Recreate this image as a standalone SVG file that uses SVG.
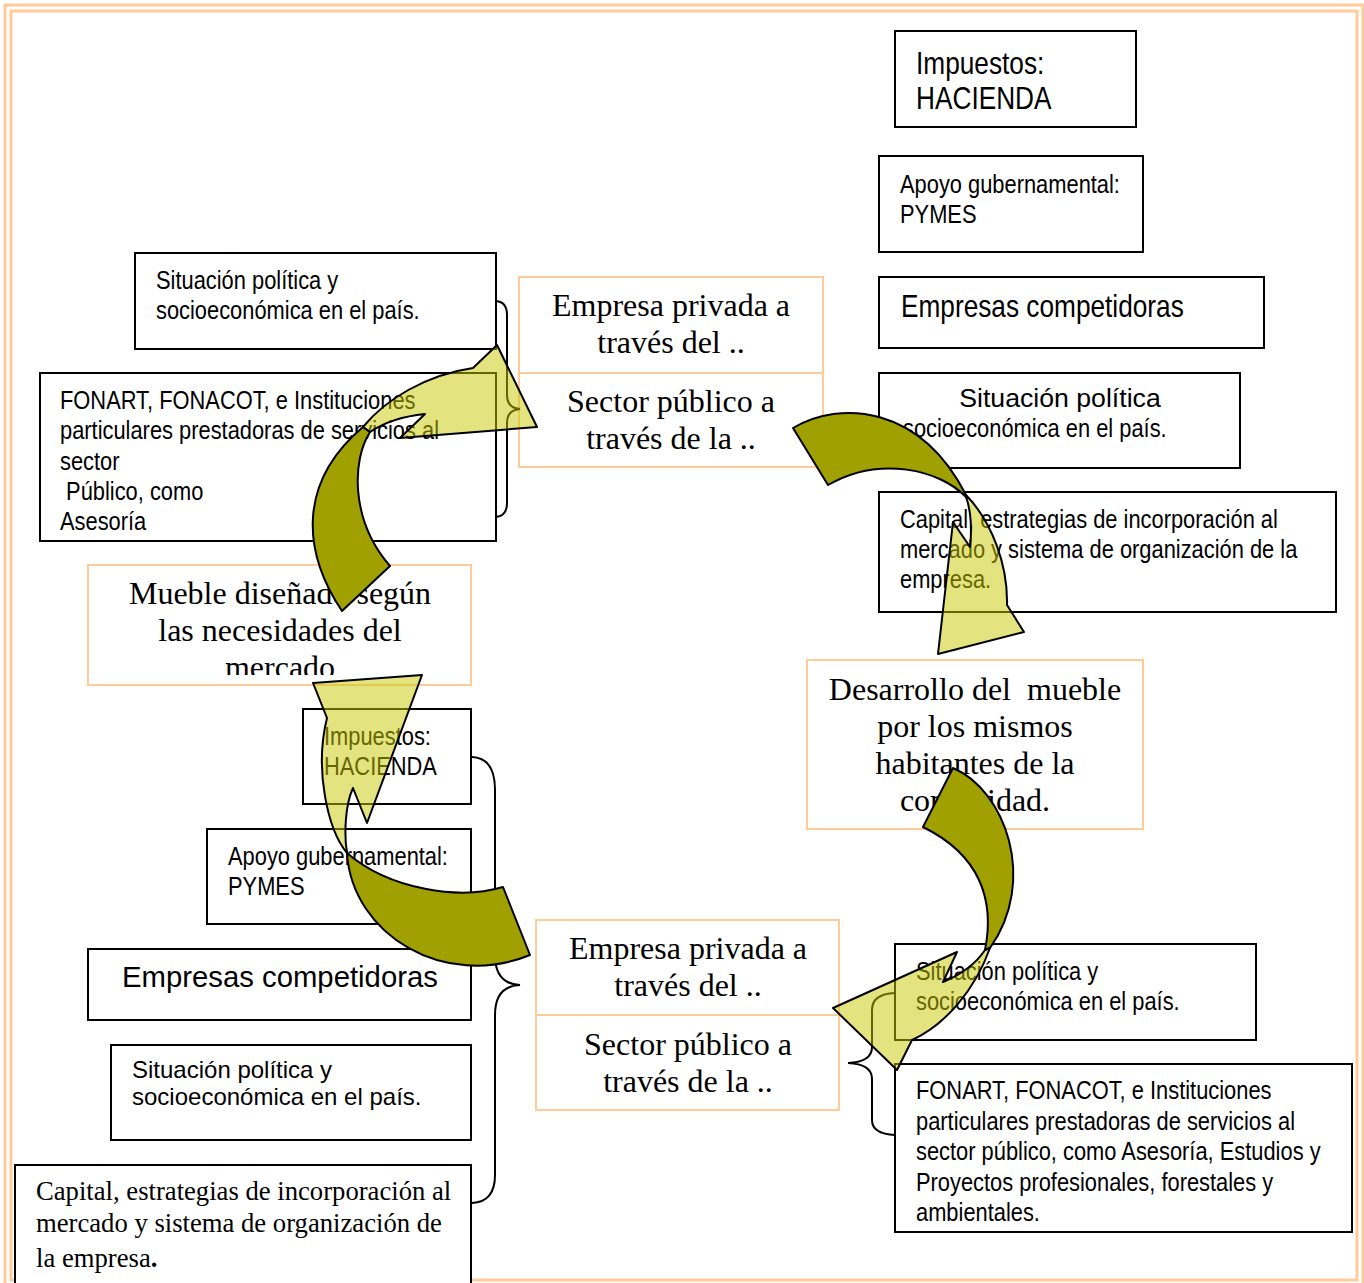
<svg xmlns="http://www.w3.org/2000/svg" width="1364" height="1283" viewBox="0 0 1364 1283">
<style>
.bx{fill:#fff;stroke:#000;stroke-width:2}
.ob{fill:#fff;stroke:#FFCC99;stroke-width:2}
.nw{font-family:"Liberation Sans",Arial,sans-serif;font-size:26.67px;fill:#000}
.nw32{font-family:"Liberation Sans",Arial,sans-serif;font-size:32px;fill:#000}
.ar{font-family:"Liberation Sans",Arial,sans-serif;fill:#000}
.sf{font-family:"Liberation Serif","Times New Roman",serif;font-size:32px;fill:#000;text-anchor:middle}
.sf2{font-family:"Liberation Serif","Times New Roman",serif;font-size:26.67px;fill:#000}
.brace{fill:none;stroke:#000;stroke-width:2}
.dk{fill:#A0A000;stroke:#000;stroke-width:2;stroke-linejoin:round}
.lt{fill:#C8C800;fill-opacity:0.5;stroke:#000;stroke-width:2;stroke-linejoin:round}
.frame{fill:none;stroke:#FFCC99;stroke-width:3}
</style>
<defs>
<clipPath id="clipMueble"><rect x="88" y="565" width="383" height="110"/></clipPath>
</defs>
<rect x="0" y="0" width="1364" height="1283" fill="#fff"/>
<rect class="frame" x="5" y="5" width="1358" height="1281"/>
<rect class="frame" x="11" y="11" width="1346" height="1269"/>

<g id="n-impuestos-tr"><rect class="bx" x="895" y="31" width="241" height="96"/>
<g transform="translate(916 0) scale(0.82 1)"><text class="nw32" x="0" y="74">Impuestos:</text><text class="nw32" x="0" y="109">HACIENDA</text></g></g>
<g id="n-apoyo-tr"><rect class="bx" x="879" y="156" width="264" height="96"/>
<g transform="translate(900 0) scale(0.82 1)"><text class="nw" x="0" y="193">Apoyo gubernamental:</text><text class="nw" x="0" y="223">PYMES</text></g></g>
<g id="n-competidoras-tr"><rect class="bx" x="879" y="277" width="385" height="71"/>
<g transform="translate(901 0) scale(0.82 1)"><text class="nw32" x="0" y="317">Empresas competidoras</text></g></g>
<g id="n-situacion-tr"><rect class="bx" x="879" y="373" width="361" height="95"/>
<text class="ar" font-size="26.67" x="1060" y="407" text-anchor="middle">Situación política</text>
<g transform="translate(903 0) scale(0.82 1)"><text class="nw" x="0" y="437">socioeconómica en el país.</text></g></g>
<g id="n-capital-tr"><rect class="bx" x="879" y="492" width="457" height="120"/>
<g transform="translate(900 0) scale(0.82 1)">
<text class="nw" x="0" y="528">Capital, estrategias de incorporación al</text>
<text class="nw" x="0" y="558">mercado y sistema de organización de la</text>
<text class="nw" x="0" y="588">empresa.</text></g></g>

<g id="n-privada-top"><rect class="ob" x="519" y="277" width="304" height="96"/>
<text class="sf" x="671" y="316">Empresa privada a</text><text class="sf" x="671" y="353">través del ..</text></g>
<g id="n-publico-top"><rect class="ob" x="519" y="373" width="304" height="94"/>
<text class="sf" x="671" y="412">Sector público a</text><text class="sf" x="671" y="449">través de la ..</text></g>

<g id="n-situacion-tl"><rect class="bx" x="135" y="253" width="361" height="96"/>
<g transform="translate(156 0) scale(0.82 1)"><text class="nw" x="0" y="289">Situación política y</text><text class="nw" x="0" y="319">socioeconómica en el país.</text></g></g>
<g id="n-fonart-l"><rect class="bx" x="40" y="373" width="456" height="168"/>
<g transform="translate(60 0) scale(0.82 1)">
<text class="nw" x="0" y="409">FONART, FONACOT, e Instituciones</text>
<text class="nw" x="0" y="439">particulares prestadoras de servicios al</text>
<text class="nw" x="0" y="470">sector</text>
<text class="nw" x="0" y="500" xml:space="preserve"> Público, como</text>
<text class="nw" x="0" y="530">Asesoría</text></g></g>

<g id="n-mueble"><rect class="ob" x="88" y="565" width="383" height="120"/>
<g clip-path="url(#clipMueble)">
<text class="sf" x="280" y="604">Mueble diseñado según</text>
<text class="sf" x="280" y="641">las necesidades del</text>
<text class="sf" x="280" y="678">mercado</text></g></g>

<g id="n-desarrollo"><rect class="ob" x="807" y="660" width="336" height="169"/>
<text class="sf" x="975" y="700" xml:space="preserve">Desarrollo del  mueble</text>
<text class="sf" x="975" y="737">por los mismos</text>
<text class="sf" x="975" y="774">habitantes de la</text>
<text class="sf" x="975" y="811">comunidad.</text></g>

<g id="n-impuestos-bl"><rect class="bx" x="303" y="709" width="168" height="95"/>
<g transform="translate(324 0) scale(0.82 1)"><text class="nw" x="0" y="745">Impuestos:</text><text class="nw" x="0" y="775">HACIENDA</text></g></g>
<g id="n-apoyo-bl"><rect class="bx" x="207" y="829" width="264" height="95"/>
<g transform="translate(228 0) scale(0.82 1)"><text class="nw" x="0" y="865">Apoyo gubernamental:</text><text class="nw" x="0" y="895">PYMES</text></g></g>
<g id="n-competidoras-bl"><rect class="bx" x="88" y="949" width="383" height="71"/>
<text class="ar" font-size="29.3" x="122" y="987">Empresas competidoras</text></g>
<g id="n-situacion-bl"><rect class="bx" x="111" y="1045" width="360" height="95"/>
<text class="ar" font-size="24" x="132" y="1078">Situación política y</text>
<text class="ar" font-size="24" x="132" y="1105">socioeconómica en el país.</text></g>
<g id="n-capital-bl"><rect class="bx" x="15" y="1165" width="456" height="135"/>
<text class="sf2" x="36" y="1200">Capital, estrategias de incorporación al</text>
<text class="sf2" x="36" y="1232">mercado y sistema de organización de</text>
<text class="sf2" x="36" y="1267">la empresa<tspan font-weight="bold">.</tspan></text></g>

<g id="n-privada-bot"><rect class="ob" x="536" y="920" width="303" height="95"/>
<text class="sf" x="688" y="959">Empresa privada a</text><text class="sf" x="688" y="996">través del ..</text></g>
<g id="n-publico-bot"><rect class="ob" x="536" y="1015" width="303" height="95"/>
<text class="sf" x="688" y="1055">Sector público a</text><text class="sf" x="688" y="1092">través de la ..</text></g>

<g id="n-situacion-br"><rect class="bx" x="895" y="944" width="361" height="96"/>
<g transform="translate(916 0) scale(0.82 1)"><text class="nw" x="0" y="980">Situación política y</text><text class="nw" x="0" y="1010">socioeconómica en el país.</text></g></g>
<g id="n-fonart-br"><rect class="bx" x="895" y="1064" width="457" height="168"/>
<g transform="translate(916 0) scale(0.82 1)">
<text class="nw" x="0" y="1099">FONART, FONACOT, e Instituciones</text>
<text class="nw" x="0" y="1130">particulares prestadoras de servicios al</text>
<text class="nw" x="0" y="1160">sector público, como Asesoría, Estudios y</text>
<text class="nw" x="0" y="1191">Proyectos profesionales, forestales y</text>
<text class="nw" x="0" y="1221">ambientales.</text></g></g>

<g id="connectors">
<path class="brace" d="M496,301 Q507,302 507,315 L507,395 Q507,408 520,409 Q507,410 507,423 L507,503 Q507,516 496,517"/>
<path class="brace" d="M472,757 Q495,758 495,790 L495,955 Q495,984 520,985 Q495,986 495,1015 L495,1175 Q495,1202 472,1203"/>
<path class="brace" d="M895,993 Q872,994 872,1010 L872,1047 Q872,1062 848,1063 Q872,1064 872,1079 L872,1120 Q872,1134 895,1135"/>

<path class="dk" d="M342,611 C300,548 300,480 363,427 L370,432 C352,460 350,520 390,566 Z"/>
<path class="lt" d="M363,427 C385,400 425,375 473,368 L497,345 L537,427 L400,438 L425,414 C405,416 385,422 370,432 Z"/>

<path class="dk" d="M793,428 C840,400 920,405 966,495 L966,497 C940,470 880,455 828,485 Z"/>
<path class="lt" d="M966,495 C992,522 1008,565 1007,605 L1024,632 L938,654 L953,522 L970,547 C972,530 971,510 966,497 Z"/>

<path class="dk" d="M953,768 C1005,790 1038,880 990,948 L985,950 C995,900 980,855 923,827 Z"/>
<path class="lt" d="M990,948 C975,990 945,1025 912,1040 L897,1070 L833,1008 L957,952 L943,982 C960,975 975,965 985,950 Z"/>

<path class="dk" d="M347,853 C352,935 445,990 530,955 L503,887 C460,900 390,890 347,853 Z"/>
<path class="lt" d="M327,718 L313,683 L422,675 L367,823 L353,788 C345,805 344,835 347,853 C328,830 314,770 327,718 Z"/>
</g>
</svg>
